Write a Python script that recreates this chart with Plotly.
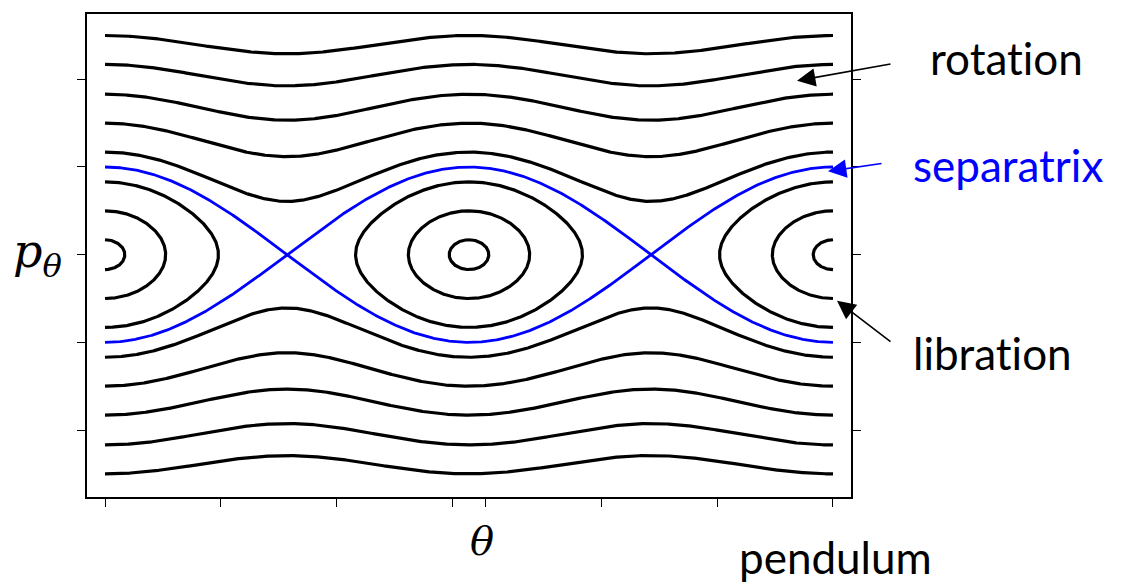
import numpy as np
import plotly.graph_objects as go

# Phase portrait of H = p^2/2 + sin^2(theta)/2, labelled by the momentum
# each orbit has where it crosses a stable equilibrium (theta = 0, ±pi).
ROTATION_P0 = [1.17, 1.5, 1.83, 2.17, 2.5]      # open (rotating) orbits
LIBRATION_P0 = [0.17, 0.5, 0.83]                # closed (librating) orbits
SEPARATRIX_P0 = 1.0
CENTERS = [-np.pi, 0.0, np.pi]

X_TICKS = [-np.pi, -np.pi + 1, -np.pi + 2, -np.pi + 3,
           np.pi - 3, np.pi - 2, np.pi - 1, np.pi]
Y_TICKS = [-2, -1, 0, 1, 2]

BLACK = "#000000"
BLUE = "#0000ff"
ZWNJ = "\u200c"  # keeps "t" and "i" as separate glyphs

theta = np.linspace(-np.pi, np.pi, 1201)
fig = go.Figure()


def add_curve(x, y, color, width=3.2):
    fig.add_trace(go.Scatter(x=x, y=y, mode="lines",
                             line=dict(color=color, width=width),
                             hoverinfo="skip", showlegend=False))


# rotation orbits above and below the separatrix
for p0 in ROTATION_P0:
    p = np.sqrt(p0 ** 2 - np.sin(theta) ** 2)
    add_curve(theta, p, BLACK)
    add_curve(theta, -p, BLACK)

# libration orbits around each stable point, cut at the window edges
for c in CENTERS:
    if c < 0:
        phi = np.linspace(0, np.pi, 361)
    elif c > 0:
        phi = np.linspace(np.pi, 2 * np.pi, 361)
    else:
        phi = np.linspace(0, 2 * np.pi, 721)
    for p0 in LIBRATION_P0:
        th = c + np.arcsin(p0 * np.sin(phi))
        p = p0 * np.cos(phi)
        add_curve(th, p, BLACK)

# separatrix branches
add_curve(theta, SEPARATRIX_P0 * np.cos(theta), BLUE, 2.8)
add_curve(theta, -SEPARATRIX_P0 * np.cos(theta), BLUE, 2.8)

W, H = 1127, 585
L, R, T, B = 87, 851, 12, 497


def px(x):
    return (x - L) / (R - L)


def py(y):
    return (B - y) / (B - T)


label_font = dict(family="Lato, 'Open Sans', sans-serif", size=44, color=BLACK)
annotations = [
    dict(text=f"rot{ZWNJ}at{ZWNJ}ion", x=px(1006), y=py(56), font=label_font),
    dict(text="separatrix", x=px(1008), y=py(164),
         font=dict(label_font, color=BLUE)),
    dict(text=f"librat{ZWNJ}ion", x=px(992), y=py(352), font=label_font),
    dict(text="pendulum", x=px(835), y=py(557), font=label_font),
    dict(text="<i>θ</i>", x=px(482), y=py(541),
         font=dict(family="DejaVu Serif", size=40, color=BLACK)),
    dict(text="<i>p</i><sub><i>θ</i></sub>", x=px(37), y=py(253),
         font=dict(family="DejaVu Serif", size=46, color=BLACK)),
]
for a in annotations:
    a.update(xref="paper", yref="paper", showarrow=False,
             xanchor="center", yanchor="middle")

# arrows pointing from the labels to the curves
arrows = [((797, 79), (892, 62), BLACK),
          ((828, 170), (883, 162), BLUE),
          ((837, 300), (892, 342), BLACK)]
for (hx, hy), (tx, ty), col in arrows:
    annotations.append(dict(
        x=px(hx), y=py(hy), xref="paper", yref="paper", text="",
        showarrow=True, ax=tx - hx, ay=ty - hy, axref="pixel", ayref="pixel",
        arrowhead=2, arrowsize=2.3, arrowwidth=1.6, arrowcolor=col,
        standoff=0))

fig.update_layout(
    width=W, height=H, autosize=False,
    margin=dict(l=L, r=W - R, t=T, b=H - B, pad=0),
    paper_bgcolor="white", plot_bgcolor="white",
    showlegend=False,
    annotations=annotations,
    xaxis=dict(range=[-3.297, 3.297], tickvals=X_TICKS, showticklabels=False,
               ticks="outside", ticklen=8, tickwidth=1.3, tickcolor=BLACK,
               showline=True, linecolor=BLACK, linewidth=1.5, mirror=True,
               showgrid=False, zeroline=False),
    yaxis=dict(range=[-2.764, 2.745], tickvals=Y_TICKS, showticklabels=False,
               ticks="outside", ticklen=8, tickwidth=1.3, tickcolor=BLACK,
               showline=True, linecolor=BLACK, linewidth=1.5, mirror="ticks",
               showgrid=False, zeroline=False),
)

fig.write_html("out.html")
